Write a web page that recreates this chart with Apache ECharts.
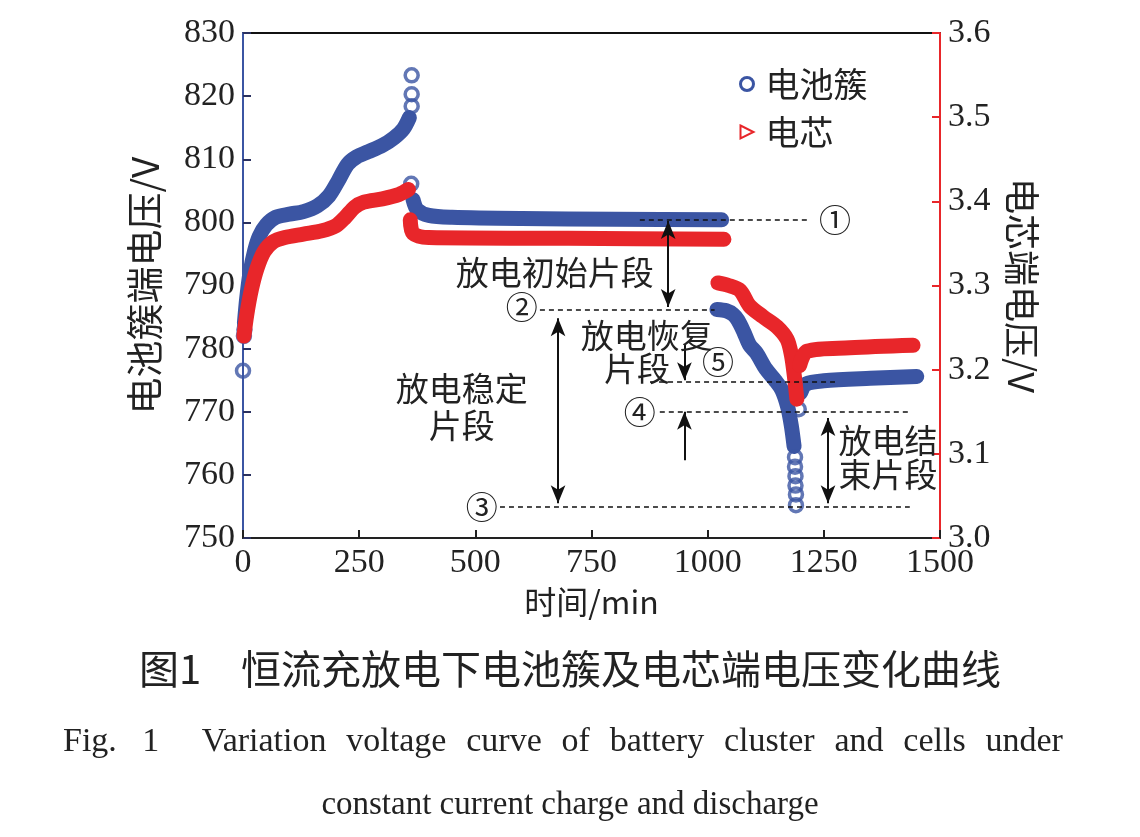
<!DOCTYPE html>
<html><head><meta charset="utf-8">
<script src="https://cdn.jsdelivr.net/npm/echarts@6/dist/echarts.min.js"></script>
<style>html,body{margin:0;padding:0;background:#fff}#c{width:1140px;height:837px}</style>
</head><body><div id="c"></div>
<script>
// ---- data (time in min, voltage) ----
const xTicks = [0, 250, 500, 750, 1000, 1250, 1500];
const leftTicks = [750, 760, 770, 780, 790, 800, 810, 820, 830];
const rightTicks = [3.0, 3.1, 3.2, 3.3, 3.4, 3.5, 3.6];

// battery cluster (left axis, V)
const clusterCharge = [[3,784],[8,788],[15,792],[25,795.5],[35,797.8],[50,799.6],[70,800.8],[100,801.3],[130,801.7],[160,802.6],[185,804.2],[205,806.6],[225,809.2],[245,810.4],[270,811.2],[300,812.2],[325,813.4],[345,814.8],[358,816.6]];
const clusterRest = [[366,803.6],[375,802],[400,801.1],[450,800.8],[600,800.6],[800,800.5],[1030,800.4]];
const clusterDischarge = [[1020,786.2],[1040,786],[1055,785.4],[1065,784.5],[1078,782.6],[1090,780.6],[1105,779.3],[1125,776.8],[1145,775],[1160,773.4],[1172,770.8],[1180,767.8],[1186,764.5]];
const clusterRecovery = [[1200,773],[1212,774.4],[1250,774.9],[1350,775.3],[1450,775.6]];
const clusterPoints = [[0,776.5],[2,782],[3,783],[363,823.3],[363,820.3],[363,818.4],[362,806.1],[1188,762.8],[1188,761.3],[1189,759.8],[1189,758.3],[1190,756.9],[1190,755.2],[1196,770.4]];

// cells (right axis, V)
const cellCharge = [[2,3.24],[8,3.265],[18,3.295],[30,3.32],[45,3.34],[65,3.352],[90,3.357],[130,3.361],[170,3.365],[200,3.371],[220,3.381],[240,3.393],[260,3.399],[300,3.403],[335,3.408],[356,3.414]];
const cellRest = [[360,3.378],[366,3.362],[400,3.357],[700,3.356],[1035,3.355]];
const cellDischarge = [[1022,3.303],[1045,3.3],[1070,3.294],[1090,3.276],[1119,3.263],[1149,3.251],[1171,3.236],[1180,3.218],[1186,3.195],[1192,3.165]];
const cellRecovery = [[1198,3.205],[1214,3.222],[1306,3.226],[1442,3.229]];

// annotations [t1, t2, value on left axis]
const dashLines = [[854,1220,800.4],[639,1015,786.1],[553,1435,754.9],[897,1435,770.0],[876,1274,774.7]];
// arrows [t, from, to, doubleHeaded]
const arrows = [[915,800.2,786.6,true],[678,784.8,755.5,true],[950,780.6,775.0,false],[950,762.3,770.0,false],[1259,769.0,755.5,true]];
const annoTexts = [
  [1274,800.4,'①'],[600,786.6,'②'],[514,754.9,'③'],[854,770.0,'④'],[1022,777.9,'⑤'],
  [671,792.1,'放电初始片段'],[869,782.1,'放电恢复'],[848,776.9,'片段'],
  [471,773.7,'放电稳定'],[471,767.9,'片段'],[1388,765.5,'放电结'],[1388,760.0,'束片段']
];

const BLUE = '#3b55a3', RED = '#e8262a';
const SERIF = '"Liberation Serif", "Times New Roman", serif';
const CJK = '"Noto Sans CJK SC", sans-serif';
const SP = ' \u2004';

const chart = echarts.init(document.getElementById('c'));

function band(name, data, color, yIdx, z) {
  return { name, type: 'line', data, yAxisIndex: yIdx, showSymbol: false, symbol: 'none', smooth: 0.3,
    lineStyle: { color, width: 15, cap: 'round', join: 'round' }, itemStyle: { color }, z, silent: true, animation: false };
}

const markLineData = [];
dashLines.forEach(d => markLineData.push([{ coord: [d[0], d[2]], symbol: 'none', lineStyle: { type: [5, 4], width: 1.6, color: '#111' } }, { coord: [d[1], d[2]], symbol: 'none' }]));
arrows.forEach(a => markLineData.push([{ coord: [a[0], a[1]], symbol: a[3] ? 'arrow' : 'none', symbolSize: [11, 18], lineStyle: { type: 'solid', width: 2, color: '#111' } }, { coord: [a[0], a[2]], symbol: 'arrow', symbolSize: [11, 18] }]));

const option = {
  animation: false,
  backgroundColor: '#fff',
  grid: { left: 243, right: 200, top: 33, bottom: 299, show: true, borderColor: '#111', borderWidth: 2, backgroundColor: 'transparent' },
  title: [
    { text: '图1　恒流充放电下电池簇及电芯端电压变化曲线', left: 'center', top: 644, textStyle: { fontFamily: CJK, fontWeight: 'normal', fontSize: 40, color: '#222' } },
    { text: 'Fig.\u2002 1\u2003 Variation' + SP + 'voltage' + SP + 'curve' + SP + 'of' + SP + 'battery' + SP + 'cluster' + SP + 'and' + SP + 'cells' + SP + 'under', left: 58, top: 720, textStyle: { fontFamily: SERIF, fontWeight: 'normal', fontSize: 34, color: '#222' } },
    { text: 'constant current charge and discharge', left: 'center', top: 784, textStyle: { fontFamily: SERIF, fontWeight: 'normal', fontSize: 33, color: '#222' } }
  ],
  legend: {
    orient: 'vertical', left: 734, top: 62, itemWidth: 13, itemHeight: 13, itemGap: 14,
    textStyle: { fontFamily: CJK, fontSize: 34, color: '#222', padding: [0, 0, 0, 7] },
    data: [
      { name: '电池簇', icon: 'circle', itemStyle: { color: '#fff', borderColor: BLUE, borderWidth: 3 } },
      { name: '电芯', icon: 'path://M0,0L12,6L0,12Z', itemStyle: { color: '#fff', borderColor: RED, borderWidth: 2 } }
    ]
  },
  xAxis: {
    type: 'value', min: 0, max: 1500, interval: 250,
    name: '时间/min', nameLocation: 'middle', nameGap: 48,
    nameTextStyle: { fontFamily: CJK, fontSize: 32, color: '#222' },
    axisLine: { lineStyle: { color: '#222', width: 2 } },
    axisTick: { inside: true, length: 8, lineStyle: { color: '#222', width: 2 } },
    axisLabel: { fontFamily: SERIF, fontSize: 34, color: '#222', margin: 8, formatter: v => String(v) },
    splitLine: { show: false }
  },
  yAxis: [
    { type: 'value', min: 750, max: 830, interval: 10, position: 'left',
      name: '电池簇端电压/V', nameLocation: 'middle', nameGap: 80, nameRotate: 90,
      nameTextStyle: { fontFamily: CJK, fontSize: 37, color: '#222' },
      axisLine: { show: true, lineStyle: { color: BLUE, width: 2 } },
      axisTick: { inside: true, length: 8, lineStyle: { color: '#2a3160', width: 2 } },
      axisLabel: { fontFamily: SERIF, fontSize: 34, color: '#222', margin: 8, formatter: v => String(v) },
      splitLine: { show: false } },
    { type: 'value', min: 3.0, max: 3.6, interval: 0.1, position: 'right',
      name: '电芯端电压/V', nameLocation: 'middle', nameGap: 64, nameRotate: -90,
      nameTextStyle: { fontFamily: CJK, fontSize: 36, color: '#222' },
      axisLine: { show: true, lineStyle: { color: RED, width: 2 } },
      axisTick: { inside: true, length: 8, lineStyle: { color: RED, width: 2 } },
      axisLabel: { fontFamily: SERIF, fontSize: 34, color: '#222', margin: 8, formatter: v => v.toFixed(1) },
      splitLine: { show: false } }
  ],
  series: [
    band('电池簇', clusterCharge, BLUE, 0, 2),
    band('电池簇', clusterRest, BLUE, 0, 2),
    band('电池簇', clusterDischarge, BLUE, 0, 2),
    band('电池簇', clusterRecovery, BLUE, 0, 2),
    { name: '电池簇', type: 'scatter', data: clusterPoints, yAxisIndex: 0, symbol: 'circle', symbolSize: 13,
      itemStyle: { color: 'rgba(255,255,255,0)', borderColor: BLUE, borderWidth: 3.5 }, z: 3, silent: true },
    band('电芯', cellCharge, RED, 1, 4),
    band('电芯', cellRest, RED, 1, 4),
    band('电芯', cellDischarge, RED, 1, 4),
    band('电芯', cellRecovery, RED, 1, 4),
    { name: 'anno', type: 'line', data: [], yAxisIndex: 0, silent: true,
      markLine: { silent: true, animation: false, label: { show: false }, data: markLineData } }
  ]
};
chart.setOption(option);

const g = annoTexts.map(a => {
  const p = chart.convertToPixel({ xAxisIndex: 0, yAxisIndex: 0 }, [a[0], a[1]]);
  const circ = /[①②③④⑤]/.test(a[2]);
  return { type: 'text', x: p[0], y: p[1], z: 100,
    style: { text: a[2], fill: '#222', fontFamily: CJK, fontSize: circ ? 32 : 33, align: 'center', verticalAlign: 'middle' } };
});
chart.setOption({ graphic: g });
</script></body></html>
